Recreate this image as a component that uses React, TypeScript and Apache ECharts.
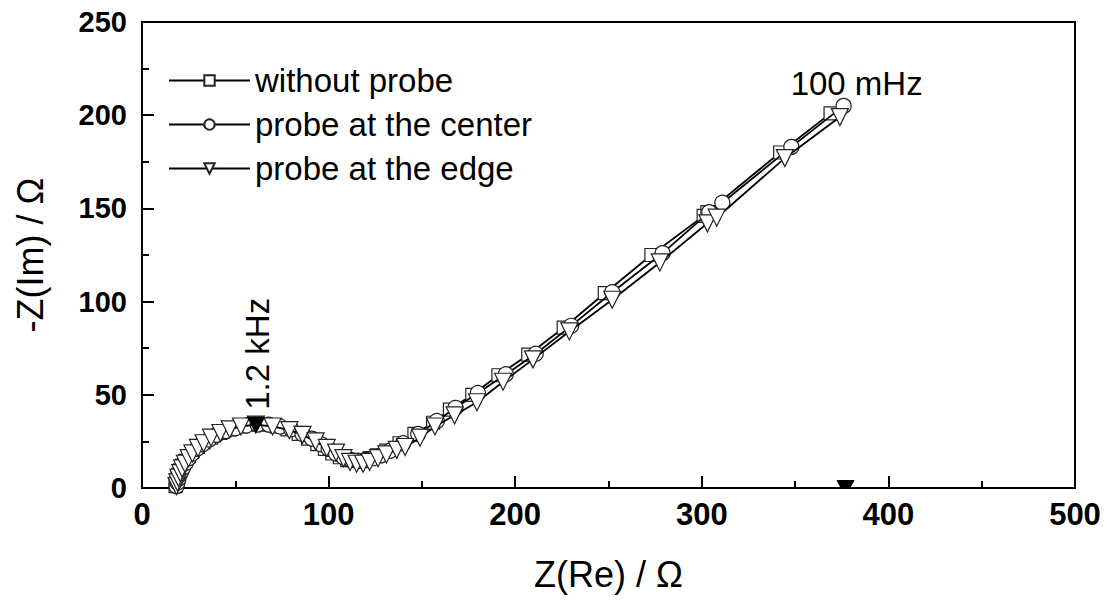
import React, { useEffect, useRef } from "react";
import * as echarts from "echarts";

// Nyquist data: [Z(Re), -Z(Im)] in ohm
const withoutProbe: [number, number][] = [
  [18, 1], [18.5, 3], [19, 5], [19.5, 7], [20.5, 9.5], [21.5, 12], [23, 14.5], [25, 17],
  [27, 19.5], [30, 22], [33, 24.5], [37, 27], [42, 29.5], [47, 31.5], [53, 33], [60, 34],
  [66, 34], [72, 33], [78, 31.5], [84, 29], [89, 26.5], [94, 23.5], [98, 21], [102, 18.5],
  [106, 16.5], [110, 15], [114, 14.5], [118, 15], [122, 16], [126, 17.5], [131, 20],
  [138, 24], [146, 29], [156, 35], [165, 42], [177, 50], [191, 60.5], [207, 71.5],
  [226, 86], [248, 104.5], [273, 125], [301, 146], [303, 148], [342, 180], [369, 201],
];

const probeCenter: [number, number][] = [
  [18.5, 1], [19, 3], [19.5, 5], [20, 7], [21, 9], [22, 11], [23.5, 13.5], [25, 16],
  [27, 18.5], [29.5, 21], [32.5, 23.5], [36, 26], [40, 28.5], [45, 30.5], [50, 32],
  [56, 33.5], [62, 34], [68, 34], [74, 33], [80, 31.5], [86, 29], [91, 26.5], [96, 23.5],
  [100, 21], [104, 18.5], [108, 16.5], [112, 15], [116, 14.5], [120, 15], [124, 16],
  [128, 17.5], [133, 20], [140, 24], [148, 29], [158, 36], [168, 43], [180, 51],
  [195, 61], [211, 72], [230, 87], [252, 105], [279, 126], [304, 148], [311, 153],
  [348, 183], [376, 205],
];

const probeEdge: [number, number][] = [
  [18.5, 1], [19, 3], [19.5, 5.5], [20.5, 8], [21.5, 10.5], [23, 13], [25, 16],
  [27, 18.5], [30, 21.5], [33, 24], [37, 27], [42, 29.5], [47, 31.5], [53, 33], [61, 34],
  [70, 33], [79, 31], [86, 28.5], [93, 25], [99, 21.5], [104, 19], [108, 16], [111.5, 14],
  [115, 13], [118.5, 13], [122, 14], [126.5, 16], [131, 18], [136.5, 20.5], [141, 22],
  [149, 27], [157, 33], [167.5, 39], [179.5, 46], [193.5, 57], [209.5, 69], [229, 84],
  [252, 101], [277.5, 121], [303, 142], [308, 145], [344.5, 177], [374, 199],
];

// filled (highlighted) markers
const filledMarkers: [number, number][] = [[61, 34], [377, 0]];

// text annotations placed in data coordinates
const annotationPos: [number, number][] = [[383, 217], [62, 72]];
const annotationText: string[] = ["100 mHz", "1.2 kHz"];
const annotationRotate: number[] = [0, 90];

const seriesNames: string[] = ["without probe", "probe at the center", "probe at the edge"];

const FONT = "'Liberation Sans', Arial, sans-serif";

export default function App() {
  const ref = useRef<HTMLDivElement>(null);

  useEffect(() => {
    document.body.style.margin = "0";
    const chart = echarts.init(ref.current!, null, { renderer: "svg" });

    const markerStyle = { color: "#fff", borderColor: "#222", borderWidth: 1.2 };
    const lineStyle = { color: "#000", width: 1.8 };

    chart.setOption({
      animation: false,
      backgroundColor: "#fff",
      textStyle: { fontFamily: FONT },
      grid: {
        left: 142,
        right: 32,
        top: 22,
        bottom: 114,
        show: true,
        borderColor: "#000",
        borderWidth: 2,
        backgroundColor: "transparent",
      },
      legend: {
        data: seriesNames,
        orient: "vertical",
        left: 163,
        top: 59,
        itemWidth: 81,
        itemHeight: 13,
        itemGap: 11,
        textStyle: { fontSize: 33, color: "#000", fontFamily: FONT, lineHeight: 33 },
        selectedMode: false,
      },
      xAxis: {
        type: "value",
        min: 0,
        max: 500,
        interval: 100,
        name: "Z(Re) / Ω",
        nameLocation: "middle",
        nameGap: 68,
        nameTextStyle: { fontSize: 36, color: "#000", fontFamily: FONT },
        axisLine: { show: true, lineStyle: { color: "#000", width: 2 } },
        axisTick: { show: true, inside: true, length: 12, lineStyle: { color: "#000", width: 2 } },
        minorTick: { show: true, splitNumber: 2, length: 7, lineStyle: { color: "#000", width: 2 } },
        axisLabel: { fontSize: 31, fontWeight: "bold", color: "#000", margin: 11, fontFamily: FONT },
        splitLine: { show: false },
      },
      yAxis: {
        type: "value",
        min: 0,
        max: 250,
        interval: 50,
        name: "-Z(Im) / Ω",
        nameLocation: "middle",
        nameGap: 94,
        nameTextStyle: { fontSize: 36, color: "#000", fontFamily: FONT },
        axisLine: { show: true, lineStyle: { color: "#000", width: 2 } },
        axisTick: { show: true, inside: true, length: 12, lineStyle: { color: "#000", width: 2 } },
        minorTick: { show: true, splitNumber: 2, length: 7, lineStyle: { color: "#000", width: 2 } },
        axisLabel: { fontSize: 29, fontWeight: "bold", color: "#000", margin: 15, fontFamily: FONT },
        splitLine: { show: false },
      },
      series: [
        {
          name: seriesNames[0],
          type: "line",
          data: withoutProbe,
          symbol: "rect",
          symbolSize: 13,
          showAllSymbol: true,
          lineStyle,
          itemStyle: markerStyle,
          z: 2,
        },
        {
          name: seriesNames[1],
          type: "line",
          data: probeCenter,
          symbol: "circle",
          symbolSize: 15,
          showAllSymbol: true,
          lineStyle,
          itemStyle: markerStyle,
          z: 3,
        },
        {
          name: seriesNames[2],
          type: "line",
          data: probeEdge,
          symbol: "triangle",
          symbolRotate: 180,
          symbolSize: 17,
          showAllSymbol: true,
          lineStyle,
          itemStyle: markerStyle,
          z: 4,
        },
        {
          name: "highlight",
          type: "custom",
          data: filledMarkers,
          clip: true,
          silent: true,
          z: 6,
          renderItem: (_params: any, api: any) => {
            const p = api.coord([api.value(0), api.value(1)]);
            const w = 17;
            const h = 15;
            return {
              type: "polygon",
              shape: {
                points: [
                  [p[0] - w / 2, p[1] - h / 2],
                  [p[0] + w / 2, p[1] - h / 2],
                  [p[0], p[1] + h / 2],
                ],
              },
              style: { fill: "#000", stroke: "#000", lineWidth: 1 },
            };
          },
        },
        {
          name: "annotations",
          type: "scatter",
          silent: true,
          symbolSize: 1,
          itemStyle: { color: "rgba(0,0,0,0)" },
          z: 7,
          data: annotationPos.map((p, i) => ({
            value: p,
            label: {
              show: true,
              position: "inside",
              formatter: annotationText[i],
              rotate: annotationRotate[i],
              fontSize: 33,
              color: "#000",
              opacity: 1,
              textBorderWidth: 0,
              fontFamily: FONT,
            },
          })),
        },
      ],
    });

    return () => chart.dispose();
  }, []);

  return <div ref={ref} style={{ width: 1107, height: 602 }} />;
}
